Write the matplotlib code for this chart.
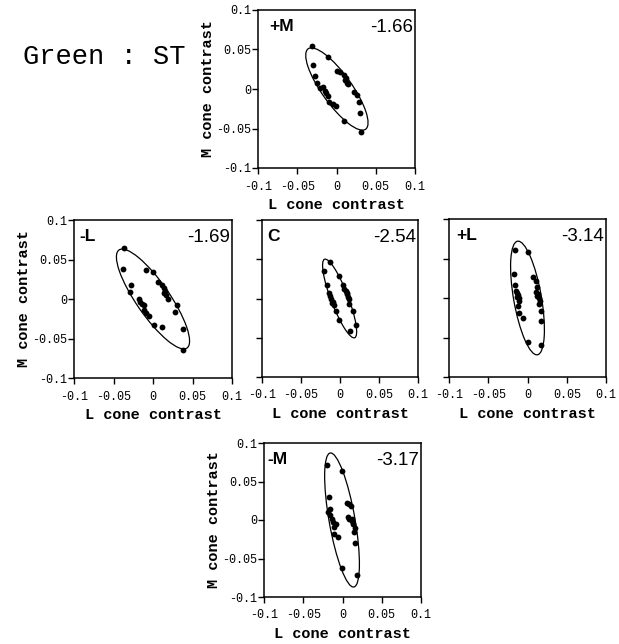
import matplotlib
matplotlib.use("Agg")
import matplotlib.pyplot as plt
from matplotlib.patches import Ellipse

# ---- data -------------------------------------------------------------
panel_names = ["+M", "-L", "C", "+L", "-M"]
panel_values = ["-1.66", "-1.69", "-2.54", "-3.14", "-3.17"]

tick_positions = [-0.1, -0.05, 0, 0.05, 0.1]
tick_labels = ["-0.1", "-0.05", "0", "0.05", "0.1"]

# threshold points (L contrast, M contrast) per condition
pm_L = [-0.031, -0.011, -0.030, -0.028, -0.025, -0.021, -0.015, -0.013, -0.011, -0.010,
        -0.005, -0.001, 0.000, 0.004, 0.009, 0.011, 0.013, 0.015, 0.022, 0.026,
        0.029, 0.030, 0.010, 0.031, 0.012, -0.017]
pm_M = [0.055, 0.041, 0.030, 0.017, 0.008, 0.001, -0.002, -0.005, -0.009, -0.016,
        -0.019, -0.022, 0.023, 0.021, 0.018, 0.011, 0.008, 0.006, -0.004, -0.007,
        -0.016, -0.030, -0.040, -0.054, 0.014, 0.003]

ml_L = [-0.0368, -0.0376, -0.0085, 0.0004, 0.0068, 0.0110, 0.0135, 0.0135, 0.0169, 0.0195,
        -0.0275, -0.0296, -0.0178, -0.0161, -0.0135, -0.0110, -0.0118, -0.0093, -0.0051, 0.0008,
        0.0110, 0.0304, 0.0283, 0.0380, 0.0380, 0.0150]
ml_M = [0.0650, 0.0384, 0.0371, 0.0342, 0.0215, 0.0173, 0.0139, 0.0080, 0.0055, -0.0004,
        0.0173, 0.0089, -0.0004, -0.0038, -0.0068, -0.0072, -0.0135, -0.0173, -0.0211, -0.0333,
        -0.0359, -0.0080, -0.0165, -0.0380, -0.0650, 0.0100]

c_L = [-0.0129, -0.0206, -0.0009, -0.0172, 0.0034, 0.0052, 0.0077, -0.0137, 0.0094, -0.0116,
       0.0112, -0.0094, -0.0077, 0.0120, -0.0052, 0.0172, -0.0009, 0.0206, 0.0129, 0.0085,
       0.0102, -0.0125, -0.0100]
c_M = [0.0459, 0.0352, 0.0289, 0.0170, 0.0170, 0.0127, 0.0098, 0.0064, 0.0051, 0.0000,
       0.0000, -0.0042, -0.0085, -0.0064, -0.0161, -0.0161, -0.0276, -0.0340, -0.0416, 0.0075,
       0.0025, 0.0030, -0.0060]

pl_L = [-0.0157, 0.0004, -0.0170, 0.0076, 0.0110, -0.0161, 0.0119, -0.0149, -0.0140, 0.0110,
        -0.0123, 0.0140, -0.0102, 0.0149, -0.0102, 0.0161, -0.0115, 0.0170, -0.0110, -0.0059,
        0.0174, 0.0000, 0.0170, 0.0125, -0.0130, 0.0150]
pl_M = [0.0605, 0.0579, 0.0304, 0.0262, 0.0211, 0.0169, 0.0135, 0.0093, 0.0059, 0.0076,
        0.0034, 0.0051, 0.0000, 0.0000, -0.0042, -0.0042, -0.0097, -0.0169, -0.0190, -0.0254,
        -0.0296, -0.0558, -0.0600, 0.0030, 0.0010, -0.0080]

mm_L = [-0.0200, -0.0004, -0.0174, 0.0055, 0.0085, 0.0106, -0.0157, -0.0179, -0.0157, 0.0064,
        0.0089, 0.0123, -0.0136, -0.0115, -0.0081, -0.0106, 0.0140, 0.0153, -0.0106, -0.0060,
        0.0149, 0.0162, -0.0004, 0.0183, 0.0115]
mm_M = [0.0714, 0.0632, 0.0303, 0.0216, 0.0208, 0.0182, 0.0143, 0.0100, 0.0069, 0.0035,
        0.0017, -0.0009, 0.0013, -0.0030, -0.0052, -0.0095, -0.0052, -0.0104, -0.0182, -0.0216,
        -0.0160, -0.0303, -0.0623, -0.0714, 0.0010]

points_L = [pm_L, ml_L, c_L, pl_L, mm_L]
points_M = [pm_M, ml_M, c_M, pl_M, mm_M]

# fitted ellipses: centre L, centre M, semi-major, semi-minor, orientation (deg)
ell_cL = [0.0005, 0.0, -0.0005, 0.0, -0.0006]
ell_cM = [0.0, 0.0, 0.0, 0.0, 0.0]
ell_a = [0.0627, 0.0755, 0.0536, 0.0730, 0.0883]
ell_b = [0.0190, 0.0210, 0.0110, 0.0177, 0.0165]
ell_ang = [-54.3, -55.3, -68.9, -80.0, -80.2]

# ---- layout -----------------------------------------------------------
W, H = 619, 644
# axes boxes in pixels: left, top, right, bottom
boxes = [
    (258, 10, 415, 168),
    (74, 220, 232, 378),
    (262, 220, 418, 377),
    (449, 219, 606, 377),
    (264, 443, 421, 597),
]
show_ylabels = [True, True, False, False, True]
name_x = [0.07, 0.035, 0.035, 0.045, 0.02]

mono = "Liberation Mono"
sans = "Liberation Sans"

fig = plt.figure(figsize=(W / 100, H / 100), dpi=100)

for i, (l, t, r, b) in enumerate(boxes):
    ax = fig.add_axes([l / W, 1 - b / H, (r - l) / W, (b - t) / H])
    ax.set_xlim(-0.1, 0.1)
    ax.set_ylim(-0.1, 0.1)
    ax.set_xticks(tick_positions)
    ax.set_yticks(tick_positions)
    ax.set_xticklabels(tick_labels, family=mono, fontsize=8.5)
    if show_ylabels[i]:
        ax.set_yticklabels(tick_labels, family=mono, fontsize=8.5)
        ax.set_ylabel("M cone contrast", family=mono, fontweight="bold",
                      fontsize=11, labelpad=1)
    else:
        ax.set_yticklabels([])
    ax.set_xlabel("L cone contrast", family=mono, fontweight="bold",
                  fontsize=11, labelpad=4)
    ax.tick_params(direction="out", length=4, width=1.0, pad=1,
                   top=False, right=False, color="black")
    ax.tick_params(axis="x", pad=5)
    for s in ax.spines.values():
        s.set_linewidth(1.1)

    e = Ellipse((ell_cL[i], ell_cM[i]), 2 * ell_a[i], 2 * ell_b[i],
                angle=ell_ang[i], fill=False, edgecolor="black", linewidth=0.9)
    ax.add_patch(e)
    ax.plot(points_L[i], points_M[i], "o", color="black", markersize=4.2,
            markeredgewidth=0)

    ax.text(name_x[i], 0.94, panel_names[i], transform=ax.transAxes, ha="left",
            va="top", family=sans, fontweight="bold", fontsize=12.5)
    ax.text(0.985, 0.94, panel_values[i], transform=ax.transAxes, ha="right",
            va="top", family=sans, fontsize=13.5)

fig.text(104 / W, 1 - 57 / H, "Green : ST", family=mono, fontsize=19.5,
         ha="center", va="center")

fig.savefig("out.png", dpi=100)
